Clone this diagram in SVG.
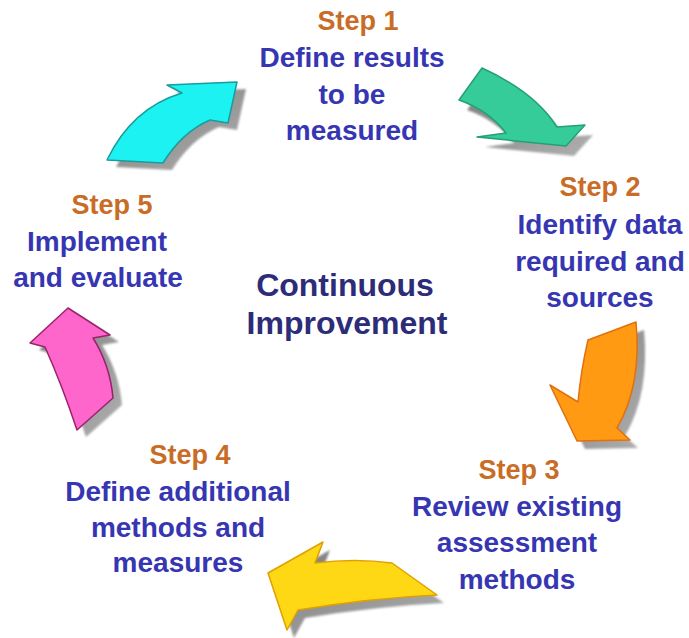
<svg xmlns="http://www.w3.org/2000/svg" width="689" height="638" viewBox="0 0 689 638">
<defs>
<filter id="soft" x="-20%" y="-20%" width="140%" height="140%"><feGaussianBlur stdDeviation="1.3"/></filter>
<linearGradient id="shade" x1="0" y1="0" x2="1" y2="1"><stop offset="0" stop-color="#6e6e6e"/><stop offset="1" stop-color="#a8a8a8"/></linearGradient>
</defs>
<style>
text{font-family:"Liberation Sans",Arial,sans-serif;font-weight:bold;text-anchor:middle}
.step{fill:#c96c26;font-size:27px}
.body{fill:#3636b2;font-size:28px}
.center{fill:#2c2c78;font-size:32px}
.shadow{fill:url(#shade);filter:url(#soft);opacity:0.9}
.arrow{stroke-width:1.5;stroke-linejoin:round}
</style>
<rect width="689" height="638" fill="#ffffff"/>
<g id="connectors">
<g id="arrow-cyan">
<path class="shadow" transform="translate(9,7)" d="M107,160 Q132,108 182,93 L167,85 L237,82 L228,123 L210,120 Q182,132 163,163 Z"/>
<path class="arrow" fill="#1cf2f2" stroke="#1a9c9c" d="M107,160 Q132,108 182,93 L167,85 L237,82 L228,123 L210,120 Q182,132 163,163 Z"/>
</g>
<g id="arrow-green">
<path class="shadow" transform="translate(8,10)" d="M482,68 Q535,92 557,127 L585,125 L566,146 L477,137 L506,133 Q488,110 459,100 Z"/>
<path class="arrow" fill="#36cc99" stroke="#23a077" d="M482,68 Q535,92 557,127 L585,125 L566,146 L477,137 L506,133 Q488,110 459,100 Z"/>
</g>
<g id="arrow-orange">
<path class="shadow" transform="translate(8,8)" d="M588,340 L636,322 Q642,385 617,428 L630,440 L577,441 L550,385 L578,402 Q581,370 588,340 Z"/>
<path class="arrow" fill="#ff9a12" stroke="#e07010" d="M588,340 L636,322 Q642,385 617,428 L630,440 L577,441 L550,385 L578,402 Q581,370 588,340 Z"/>
</g>
<g id="arrow-yellow">
<path class="shadow" transform="translate(7,8)" d="M268,573 L323,542 L315,563 Q355,558 392,563 L437,595 Q372,598 298,610 L287,630 Z"/>
<path class="arrow" fill="#ffd815" stroke="#e0a000" d="M268,573 L323,542 L315,563 Q355,558 392,563 L437,595 Q372,598 298,610 L287,630 Z"/>
</g>
<g id="arrow-pink">
<path class="shadow" transform="translate(9,7)" d="M68,308 L110,335 L93,338 Q110,365 113,398 L77,430 Q62,385 45,347 L30,343 Z"/>
<path class="arrow" fill="#ff66cc" stroke="#99226e" d="M68,308 L110,335 L93,338 Q110,365 113,398 L77,430 Q62,385 45,347 L30,343 Z"/>
</g>
</g>
<g id="step1">
<text class="step" x="358" y="30">Step 1</text>
<text class="body" x="352" y="67">Define results</text>
<text class="body" x="352" y="104">to be</text>
<text class="body" x="352" y="140">measured</text>
</g>
<g id="step2">
<text class="step" x="600" y="196">Step 2</text>
<text class="body" x="600" y="234">Identify data</text>
<text class="body" x="600" y="271">required and</text>
<text class="body" x="600" y="307">sources</text>
</g>
<g id="step3">
<text class="step" x="519" y="479">Step 3</text>
<text class="body" x="517" y="516">Review existing</text>
<text class="body" x="517" y="552">assessment</text>
<text class="body" x="517" y="589">methods</text>
</g>
<g id="step4">
<text class="step" x="190" y="464">Step 4</text>
<text class="body" x="178" y="501">Define additional</text>
<text class="body" x="178" y="537">methods and</text>
<text class="body" x="178" y="572">measures</text>
</g>
<g id="step5">
<text class="step" x="112" y="214">Step 5</text>
<text class="body" x="97" y="251">Implement</text>
<text class="body" x="98" y="287">and evaluate</text>
</g>
<g id="center">
<text class="center" x="345" y="296">Continuous</text>
<text class="center" x="347" y="334">Improvement</text>
</g>
</svg>
